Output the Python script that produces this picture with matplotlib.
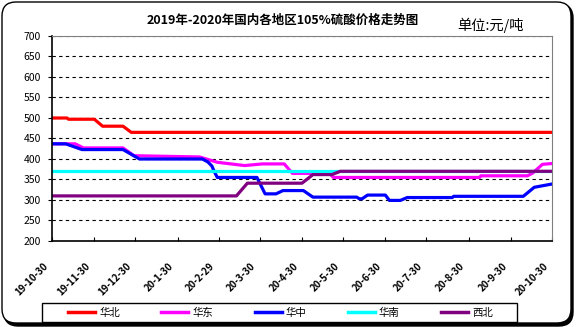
import matplotlib
matplotlib.use("Agg")
import matplotlib.pyplot as plt
import matplotlib.transforms as mtransforms
from matplotlib.patches import FancyBboxPatch, Rectangle
from datetime import date

plt.rcParams['font.family'] = ['Noto Sans CJK SC', 'DejaVu Sans']

# days counted from 2019-10-30
start = date(2019, 10, 30)

north_days = [0, 11, 12, 31, 37, 52, 58, 366]
north_vals = [500, 500, 497, 497, 480, 480, 465, 465]

east_days = [0, 17, 23, 52, 60, 108, 121, 141, 154, 170, 176, 203, 206, 313, 314, 348, 352, 359, 366]
east_vals = [437, 437, 427, 427, 408, 405, 392, 384, 388, 388, 365, 365, 355, 355, 359, 359, 366, 387, 389]

central_days = [0, 10, 22, 52, 64, 110, 114, 117, 119, 121, 150, 156, 164, 169, 184, 191, 223, 225,
                227, 231, 244, 247, 255, 260, 293, 294, 345, 353, 366]
central_vals = [437, 437, 423, 423, 400, 400, 393, 383, 368, 355, 355, 315, 315, 323, 323, 307, 307, 303,
                303, 312, 312, 299, 299, 306, 306, 309, 309, 331, 339]

south_days = [0, 366]
south_vals = [370, 370]

northwest_days = [0, 135, 143, 183, 191, 205, 211, 366]
northwest_vals = [310, 310, 341, 341, 362, 362, 370, 370]

tick_dates = [date(2019, 10, 30), date(2019, 11, 30), date(2019, 12, 30), date(2020, 1, 30),
              date(2020, 2, 29), date(2020, 3, 30), date(2020, 4, 30), date(2020, 5, 30),
              date(2020, 6, 30), date(2020, 7, 30), date(2020, 8, 30), date(2020, 9, 30),
              date(2020, 10, 30)]
tick_labels = ['19-10-30', '19-11-30', '19-12-30', '20-1-30', '20-2-29', '20-3-30', '20-4-30',
               '20-5-30', '20-6-30', '20-7-30', '20-8-30', '20-9-30', '20-10-30']

fig = plt.figure(figsize=(5.76, 3.27), dpi=100)

# rounded frame with a drop shadow
shadow = FancyBboxPatch((0.04, 0.01), 5.69, 3.22, boxstyle="round,pad=0,rounding_size=0.14",
                        transform=fig.dpi_scale_trans, facecolor='black', edgecolor='black',
                        zorder=-2)
frame = FancyBboxPatch((0.02, 0.04), 5.69, 3.21, boxstyle="round,pad=0,rounding_size=0.14",
                       transform=fig.dpi_scale_trans, facecolor='white', edgecolor='black',
                       linewidth=1, zorder=-1)
fig.patches.extend([shadow, frame])

ax = fig.add_axes([52 / 576, 1 - 241 / 327, 500 / 576, 205 / 327])
ax.set_zorder(2)
ax.set_facecolor('none')

ax.plot(north_days, north_vals, color='#FF0000', lw=2.3, label='华北')
ax.plot(east_days, east_vals, color='#FF00FF', lw=2.3, label='华东')
ax.plot(central_days, central_vals, color='#0000FF', lw=2.3, label='华中')
ax.plot(south_days, south_vals, color='#00FFFF', lw=2.3, label='华南')
ax.plot(northwest_days, northwest_vals, color='#800080', lw=2.3, label='西北')

ax.set_xlim(0, 366)
ax.set_ylim(200, 700)
ax.set_yticks(range(200, 701, 50))
ax.tick_params(axis='y', direction='out', length=3, width=0.8, labelsize=7.5, pad=5)
ax.yaxis.grid(True, color='black', linestyle=(0, (3, 3)), linewidth=0.8)
ax.set_axisbelow(True)

# month ticks on the bottom axis, labels set diagonally below them
ticks = [(d - start).days for d in tick_dates]
ax.set_xticks(ticks)
ax.tick_params(axis='x', direction='in', length=3, width=0.8, labelbottom=False)
label_shift = mtransforms.ScaledTranslation(-9 / 100, -20 / 100, fig.dpi_scale_trans)
for t, lab in zip(ticks, tick_labels):
    ax.text(t, 0, lab, transform=ax.get_xaxis_transform() + label_shift,
            rotation=45, ha='right', va='top', rotation_mode='anchor',
            fontsize=7, fontweight='bold', clip_on=False)

for side in ['top', 'right']:
    ax.spines[side].set_color('#808080')
for side in ['left', 'bottom']:
    ax.spines[side].set_color('black')
    ax.spines[side].set_linewidth(1.2)

fig.text(283 / 576, 1 - 20 / 327, '2019年-2020年国内各地区105%硫酸价格走势图', ha='center', va='center',
         fontsize=9, fontweight='bold')
fig.text(491 / 576, 1 - 25 / 327, '单位:元/吨', ha='center', va='center', fontsize=10.3)

# legend box
fig.patches.append(Rectangle((42 / 576, 1 - 322 / 327), 475 / 576, 19 / 327,
                             transform=fig.transFigure, facecolor='white', edgecolor='black',
                             linewidth=1, zorder=1))
leg = fig.legend(loc='center', ncol=5, bbox_to_anchor=(280.5 / 576, 1 - 312.5 / 327),
                 fontsize=7.5, handlelength=2.6, handletextpad=0.4, columnspacing=3.95,
                 frameon=False, borderpad=0, borderaxespad=0)
leg.set_zorder(3)
for line in leg.get_lines():
    line.set_linewidth(2.5)

fig.savefig('out.png', dpi=100)
